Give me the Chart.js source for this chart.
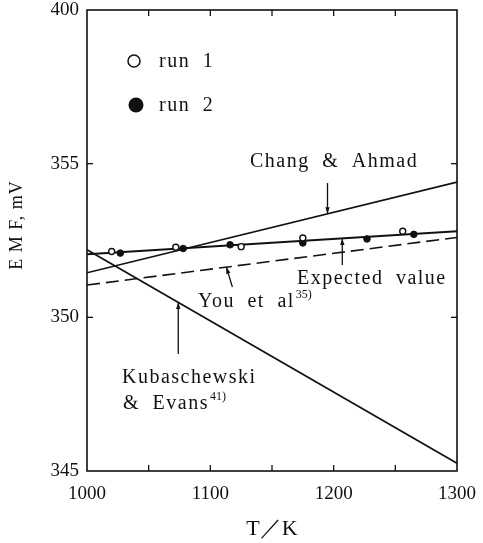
<!DOCTYPE html>
<html>
<head>
<meta charset="utf-8">
<script src="https://cdn.jsdelivr.net/npm/chart.js@4.4.1/dist/chart.umd.min.js"></script>
<style>
  html, body { margin: 0; padding: 0; background: #fff; }
  #wrap { width: 483px; height: 543px; }
</style>
</head>
<body>
<div id="wrap"><canvas id="emf" width="483" height="543"></canvas></div>
<script>
/* ─── Data ───────────────────────────────────────────────── */
const tempRange     = [1000, 1300];          // K, ends of the reference lines
const changAhmad    = [351.45, 354.40];      // mV at 1000 / 1300 K
const kubaschewski  = [352.20, 345.25];
const youEtAl       = [351.05, 352.60];      // dashed
const expectedValue = [352.05, 352.80];      // solid line through the runs

const run1T   = [1020, 1072, 1125, 1175, 1256];
const run1Emf = [352.14, 352.28, 352.30, 352.58, 352.80];
const run2T   = [1027, 1078, 1116, 1175, 1227, 1265];
const run2Emf = [352.09, 352.24, 352.36, 352.42, 352.55, 352.70];

const xTicks     = [1000, 1100, 1200, 1300];
const xInnerTick = [1050, 1100, 1150, 1200, 1250];
const yInnerTick = [350, 355];
// broken axis: the top tick is printed as 400
const yTickText  = { 345: '345', 350: '350', 355: '355', 360: '400' };

const ink   = '#111';
const serif = '"Liberation Serif", "DejaVu Serif", serif';

/* ─── Helpers ────────────────────────────────────────────── */
const pts = (xs, ys) => xs.map((v, i) => ({ x: v, y: ys[i] }));
const valueAt = (arr, t) =>
  arr[0] + (arr[1] - arr[0]) * (t - tempRange[0]) / (tempRange[1] - tempRange[0]);

function seg(ctx, x0, y0, x1, y1) {
  ctx.beginPath(); ctx.moveTo(x0, y0); ctx.lineTo(x1, y1); ctx.stroke();
}
function arrow(ctx, x0, y0, x1, y1) {
  seg(ctx, x0, y0, x1, y1);
  const ang = Math.atan2(y1 - y0, x1 - x0), h = 7, w = 0.32;
  ctx.beginPath();
  ctx.moveTo(x1, y1);
  ctx.lineTo(x1 - h * Math.cos(ang - w), y1 - h * Math.sin(ang - w));
  ctx.lineTo(x1 - h * Math.cos(ang + w), y1 - h * Math.sin(ang + w));
  ctx.closePath(); ctx.fill();
}
function label(ctx, txt, x, y, sup) {
  ctx.fillText(txt, x, y);
  if (sup) {
    const w = ctx.measureText(txt).width;
    ctx.save();
    ctx.font = '12px ' + serif;
    ctx.letterSpacing = '0px';
    ctx.fillText(sup, x + w + 1, y - 7);
    ctx.restore();
  }
}

/* ─── Frame, inward ticks, notes ─────────────────────────── */
const notes = {
  id: 'notes',
  afterDatasetsDraw(chart) {
    const { ctx, chartArea: a, scales: { x, y } } = chart;
    ctx.save();
    ctx.strokeStyle = ink; ctx.fillStyle = ink; ctx.lineWidth = 1.6;
    ctx.strokeRect(a.left, a.top, a.right - a.left, a.bottom - a.top);

    ctx.lineWidth = 1.3;
    xInnerTick.forEach(t => {
      const px = x.getPixelForValue(t);
      seg(ctx, px, a.bottom, px, a.bottom - 6);
      seg(ctx, px, a.top, px, a.top + 6);
    });
    yInnerTick.forEach(v => {
      const py = y.getPixelForValue(v);
      seg(ctx, a.left, py, a.left + 6, py);
      seg(ctx, a.right, py, a.right - 6, py);
    });

    // legend markers
    ctx.lineWidth = 1.5;
    ctx.beginPath(); ctx.arc(134, 61, 6, 0, Math.PI * 2); ctx.stroke();
    ctx.beginPath(); ctx.arc(136, 105, 7.5, 0, Math.PI * 2); ctx.fill();

    // text
    ctx.font = '20px ' + serif;
    ctx.textBaseline = 'middle';
    ctx.textAlign = 'left';
    ctx.letterSpacing = '1.5px';
    ctx.wordSpacing = '6px';
    label(ctx, 'run 1', 159, 62);
    label(ctx, 'run 2', 159, 106);
    label(ctx, 'Chang & Ahmad', 250, 162);
    label(ctx, 'Expected value', 297, 279);
    label(ctx, 'You et al', 198, 302, '35)');
    label(ctx, 'Kubaschewski', 122, 378);
    label(ctx, '& Evans', 123, 404, '41)');

    // arrows pointing at the lines
    ctx.lineWidth = 1.3;
    let t = 1195;
    arrow(ctx, x.getPixelForValue(t), 183, x.getPixelForValue(t), y.getPixelForValue(valueAt(changAhmad, t)));
    t = 1207;
    arrow(ctx, x.getPixelForValue(t), 265, x.getPixelForValue(t), y.getPixelForValue(valueAt(expectedValue, t)));
    t = 1113;
    arrow(ctx, x.getPixelForValue(t) + 6, 287, x.getPixelForValue(t), y.getPixelForValue(valueAt(youEtAl, t)));
    t = 1074;
    arrow(ctx, x.getPixelForValue(t), 354, x.getPixelForValue(t), y.getPixelForValue(valueAt(kubaschewski, t)));

    // axis titles
    ctx.letterSpacing = '0px';
    ctx.wordSpacing = '0px';
    ctx.textAlign = 'center';
    ctx.font = '22px ' + serif;
    ctx.fillText('T／K', (a.left + a.right) / 2, 529);
    ctx.translate(17, 225);
    ctx.rotate(-Math.PI / 2);
    ctx.font = '18px ' + serif;
    ctx.letterSpacing = '1px';
    ctx.fillText('E M F, mV', 0, 0);
    ctx.restore();
  }
};

/* ─── Chart ──────────────────────────────────────────────── */
const lineSet = (data, extra) => Object.assign({
  type: 'line',
  data: pts(tempRange, data),
  borderColor: ink,
  borderWidth: 1.7,
  pointRadius: 0,
  tension: 0,
  order: 2
}, extra);

new Chart(document.getElementById('emf'), {
  type: 'scatter',
  data: {
    datasets: [
      {
        label: 'run 1',
        data: pts(run1T, run1Emf),
        pointRadius: 3,
        pointBackgroundColor: '#fff',
        pointBorderColor: ink,
        pointBorderWidth: 1.4,
        order: 0
      },
      {
        label: 'run 2',
        data: pts(run2T, run2Emf),
        pointRadius: 3.3,
        pointBackgroundColor: ink,
        pointBorderColor: ink,
        order: 0
      },
      lineSet(expectedValue, { label: 'Expected value', borderWidth: 2 }),
      lineSet(changAhmad,    { label: 'Chang & Ahmad' }),
      lineSet(kubaschewski,  { label: 'Kubaschewski & Evans' }),
      lineSet(youEtAl,       { label: 'You et al', borderDash: [13, 6], borderWidth: 1.6 })
    ]
  },
  options: {
    responsive: false,
    animation: false,
    devicePixelRatio: 1,
    layout: { padding: { top: 10, right: 26, bottom: 0, left: 0 } },
    plugins: { legend: { display: false }, tooltip: { enabled: false } },
    scales: {
      x: {
        type: 'linear',
        min: tempRange[0], max: tempRange[1],
        afterBuildTicks: s => { s.ticks = xTicks.map(v => ({ value: v })); },
        grid: { display: false, drawTicks: false },
        border: { display: false },
        ticks: {
          color: ink, font: { family: serif, size: 19 }, padding: 12, maxRotation: 0,
          callback: v => String(v)
        },
        afterFit: s => { s.height = 72; s.paddingLeft = 0; s.paddingRight = 0; }
      },
      y: {
        type: 'linear',
        min: 345, max: 360,
        ticks: {
          stepSize: 5, color: ink, padding: 8,
          font: { family: serif, size: 19 },
          callback: v => yTickText[v] ?? ''
        },
        grid: { display: false, drawTicks: false },
        border: { display: false },
        afterFit: s => { s.width = 87; s.paddingTop = 0; s.paddingBottom = 0; }
      }
    }
  },
  plugins: [notes]
});
</script>
</body>
</html>
